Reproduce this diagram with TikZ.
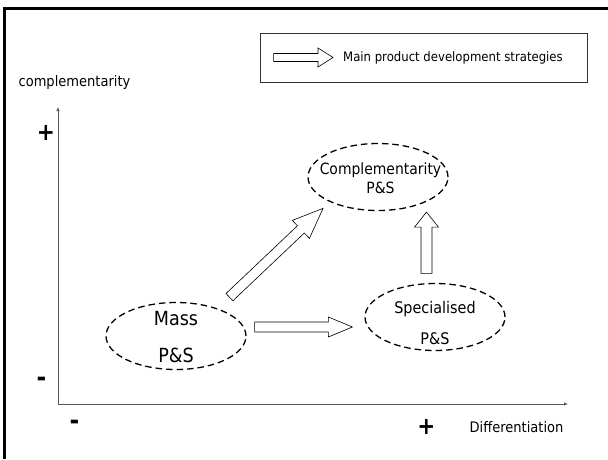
\documentclass[tikz,border=0pt]{standalone}
\usepackage{fontspec}
\setmainfont{DejaVu Sans Condensed}
\usetikzlibrary{arrows.meta,positioning,shapes.geometric,calc}

\begin{document}
\begin{tikzpicture}[
    x=1pt, y=1pt,
    strategy/.style={ellipse, draw=black, dash pattern=on 6.5pt off 4pt, line width=1.3pt, minimum width=140pt, minimum height=67pt, inner sep=0pt},
    fat/.style n args={3}{draw=black, line width=0.6pt, fill=white, to path={
        let \p1=(\tikztostart), \p2=(\tikztotarget),
            \n1={atan2(\y2-\y1,\x2-\x1)}, \n2={veclen(\x2-\x1,\y2-\y1)} in
        ($(\p1)+(\n1+90:#1)$) -- ($(\p1)+(\n1:\n2-#3)+(\n1+90:#1)$)
        -- ($(\p1)+(\n1:\n2-#3)+(\n1+90:#2)$) -- (\p2)
        -- ($(\p1)+(\n1:\n2-#3)+(\n1-90:#2)$) -- ($(\p1)+(\n1:\n2-#3)+(\n1-90:#1)$)
        -- ($(\p1)+(\n1-90:#1)$) -- cycle}},
    axis/.style={draw=black!65, line width=0.8pt, -{Latex[length=4pt,width=3.5pt]}},
    sign/.style={font=\fontsize{24}{24}\selectfont\bfseries, inner sep=0pt},
    axislabel/.style={font=\fontsize{14.5}{17}\selectfont, inner sep=0pt}
    ]
    \useasboundingbox (0,0) rectangle (608,-459);
    \draw[line width=3pt] (4,-459) -- (4,-8) -- (608,-8);

    \node[draw=black!80, line width=0.8pt, minimum width=327pt, minimum height=49pt] (legend) at (423.5,-57.5) {};
    \node[anchor=west, inner sep=0pt, font=\fontsize{13}{15}\selectfont] (legtxt) at (343,-57.5) {Main product development strategies};
    \draw[fat={4}{9.5}{15}] ([xshift=14pt]legend.west) to ([xshift=-10pt]legtxt.west);

    \coordinate (origin) at (58,-404);
    \coordinate (ytop) at (58,-107);
    \coordinate (xend) at (568,-404);
    \draw[axis] (origin) -- (ytop);
    \draw[axis] (origin) -- (xend);

    \node[axislabel] (ylabel) at (74.5,-82) {complementarity};
    \node[axislabel] (xlabel) at (516.5,-427) {Differentiation};
    \node[sign] (yplus) at (46,-133) {+};
    \node[sign, font=\fontsize{26}{26}\selectfont\bfseries] (yminus) at (41.5,-382) {-};
    \node[sign, font=\fontsize{26}{26}\selectfont\bfseries] (xminus) at (74.5,-425) {-};
    \node[sign] (xplus) at (426.5,-427) {+};

    \node[strategy] (mass) at (176,-336) {};
    \node[strategy] (spec) at (435,-317) {};
    \node[strategy] (compl) at (378,-177) {};
    \node[align=center, inner sep=0pt, font=\fontsize{19.5}{37}\selectfont] (masstxt) at ([yshift=-1.5pt]mass.center) {Mass\\P\&S};
    \node[align=center, inner sep=0pt, font=\fontsize{16}{31}\selectfont] (spectxt) at ([yshift=-6.5pt]spec.center) {Specialised\\P\&S};
    \node[align=center, inner sep=0pt, font=\fontsize{15.5}{19}\selectfont] (compltxt) at ([xshift=2.5pt,yshift=-1.5pt]compl.center) {Complementarity\\P\&S};

    \draw[fat={5}{10}{24}] ([xshift=8pt,yshift=9pt]mass.east) to ([xshift=-12pt,yshift=-10pt]spec.west);
    \draw[fat={5}{12.4}{30}] ([xshift=3.5pt,yshift=14.7pt]mass.north east) to ([xshift=-5pt,yshift=-7.2pt]compl.south west);
    \draw[fat={5.5}{12}{15}] ([xshift=-8.5pt,yshift=9.5pt]spec.north) to ([xshift=-1.5pt,yshift=-11pt]compl.south east);
\end{tikzpicture}
\end{document}
